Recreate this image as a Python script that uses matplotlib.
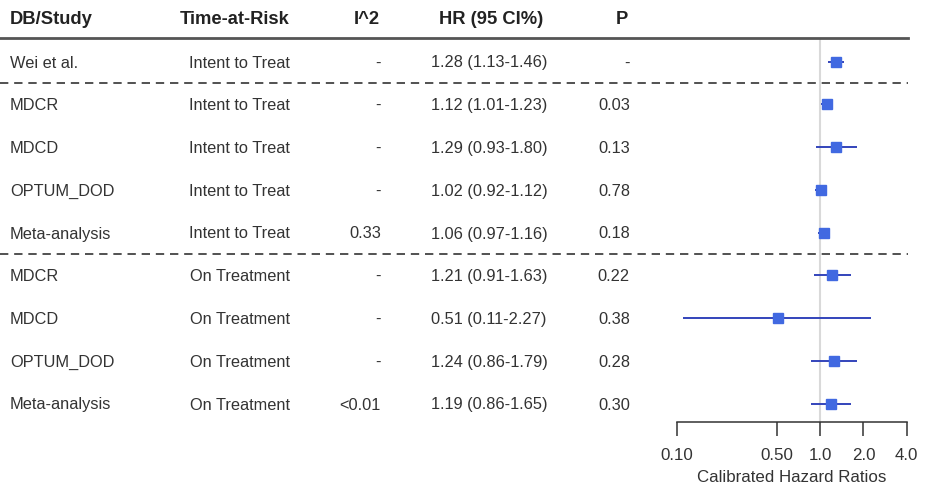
import matplotlib
matplotlib.use("Agg")
import matplotlib.pyplot as plt
from matplotlib import transforms
from matplotlib.lines import Line2D

plt.rcParams['font.family'] = ['Liberation Sans', 'DejaVu Sans']

# ---- data ----
studies = ["Wei et al.", "MDCR", "MDCD", "OPTUM_DOD", "Meta-analysis",
           "MDCR", "MDCD", "OPTUM_DOD", "Meta-analysis"]
time_at_risk = ["Intent to Treat"] * 5 + ["On Treatment"] * 4
i2_labels = ["-", "-", "-", "-", "0.33", "-", "-", "-", "<0.01"]
hr = [1.28, 1.12, 1.29, 1.02, 1.06, 1.21, 0.51, 1.24, 1.19]
ci_low = [1.13, 1.01, 0.93, 0.92, 0.97, 0.91, 0.11, 0.86, 0.86]
ci_high = [1.46, 1.23, 1.80, 1.12, 1.16, 1.63, 2.27, 1.79, 1.65]
p_labels = ["-", "0.03", "0.13", "0.78", "0.18", "0.22", "0.38", "0.28", "0.30"]
headers = ["DB/Study", "Time-at-Risk", "I^2", "HR (95 CI%)", "P"]
x_ticks = [0.1, 0.5, 1.0, 2.0, 4.0]
x_tick_labels = ["0.10", "0.50", "1.0", "2.0", "4.0"]
separators_after = [0, 4]

W, H = 933, 488
fig = plt.figure(figsize=(W / 100, H / 100), dpi=100)

# forest axes (pixel geometry)
ax_l, ax_r, ax_t, ax_b = 676.7, 906.7, 38, 422
ax = fig.add_axes([ax_l / W, 1 - ax_b / H, (ax_r - ax_l) / W, (ax_b - ax_t) / H])
row0, rowstep = 61.5, 42.75
ax.set_xscale('log')
ax.set_xlim(0.1, 4.0)
ax.set_ylim((ax_b - row0) / rowstep, (ax_t - row0) / rowstep)

for s in ['top', 'right', 'left']:
    ax.spines[s].set_visible(False)
ax.spines['bottom'].set_color('#333333')
ax.spines['bottom'].set_linewidth(1.1)
ax.set_yticks([])
ax.set_xticks(x_ticks)
ax.set_xticklabels(x_tick_labels)
ax.minorticks_off()
ax.tick_params(axis='x', direction='out', length=10, width=1.1, color='#333333',
               labelsize=12.2, labelcolor='#333333', pad=9)
ax.set_xlabel("Calibrated Hazard Ratios", fontsize=12.2, color='#333333', labelpad=5)

ax.axvline(1.0, color='#d9d9d9', lw=1.5, zorder=0)

ys = list(range(len(hr)))
for y, h, lo, hi in zip(ys, hr, ci_low, ci_high):
    ax.plot([lo, hi], [y, y], color='#3344bb', lw=1.4, solid_capstyle='butt', zorder=2)
ax.plot(hr, ys, ls='none', marker='s', markersize=6.5, color='#4169e1', zorder=3)

# text table
trans = transforms.blended_transform_factory(fig.transFigure, ax.transData)
tc = '#333333'
fs = 11.8
hfs = 13.2
hy = -1.02
hdr_x = [(10, 'left'), (290, 'right'), (380, 'right'), (491, 'center'), (628, 'right')]
for txt, (x, ha) in zip(headers, hdr_x):
    ax.text(x / W, hy, txt, transform=trans, ha=ha, va='center_baseline', fontsize=hfs,
            fontweight='bold', color='#222222', clip_on=False)

for y in ys:
    kw = dict(transform=trans, va='center_baseline', fontsize=fs, color=tc, clip_on=False)
    ax.text(10 / W, y, studies[y], ha='left', **kw)
    ax.text(290 / W, y, time_at_risk[y], ha='right', **kw)
    ax.text(381 / W, y, i2_labels[y], ha='right', **kw)
    hr_txt = f"{hr[y]:.2f} ({ci_low[y]:.2f}-{ci_high[y]:.2f})"
    ax.text(489 / W, y, hr_txt, ha='center', **kw)
    ax.text(630 / W, y, p_labels[y], ha='right', **kw)

# header rule and separators
fig.add_artist(Line2D([0 / W, 908 / W], [1 - 38 / H, 1 - 38 / H], transform=fig.transFigure,
                      color='#555555', lw=2))
for s in separators_after:
    ax.plot([0 / W, 908 / W], [s + 0.5, s + 0.5], transform=trans, color='#333333',
            lw=1.2, ls=(0, (5, 3.5)), clip_on=False)

fig.savefig("out.png", dpi=100)
